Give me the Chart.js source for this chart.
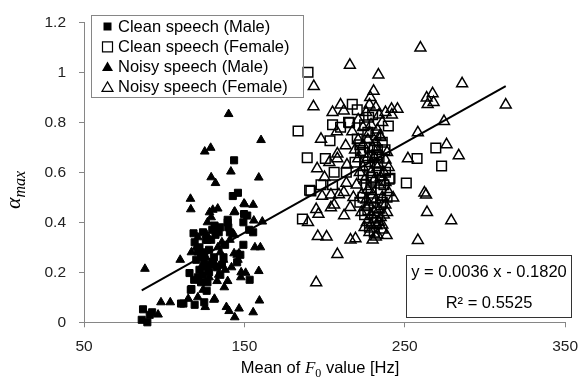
<!DOCTYPE html>
<html>
<head>
<meta charset="utf-8">
<script src="https://cdn.jsdelivr.net/npm/chart.js@4"></script>
<style>
  html, body { margin: 0; padding: 0; background: #fff; }
  #wrap { width: 588px; height: 381px; position: relative; }
</style>
</head>
<body>
<div id="wrap"><canvas id="chart"></canvas></div>
<script>
// === scatter F0 vs alpha_max ===

// Clean speech (Male) - filled squares
const cleanMaleX = [86.8, 86, 89.5, 92.5, 91, 110.5, 112, 119, 116.6, 115.8, 118.7, 121, 123, 124, 119, 118.3, 121, 123, 125, 126.5,
  126.5, 127, 128, 129.3, 130, 131.4, 133, 135, 136, 139.6, 141, 142.8, 146, 143.6, 145.5, 147.5, 149.4, 149.4, 151.8, 153,
  155.5, 153.3, 124.2, 139.6, 149.8, 122, 124, 127, 132, 135, 138, 120, 125, 129, 131, 122, 128, 134, 140, 130, 126, 137, 117, 125];
const cleanMaleY = [0.052, 0.01, 0.0, 0.04, 0.03, 0.075, 0.075, 0.07, 0.13, 0.197, 0.17, 0.18, 0.16, 0.19, 0.32, 0.356, 0.283, 0.26, 0.27, 0.22,
  0.126, 0.16, 0.2, 0.33, 0.37, 0.387, 0.22, 0.19, 0.23, 0.40, 0.36, 0.505, 0.518, 0.648, 0.24, 0.27, 0.31, 0.40, 0.427, 0.37,
  0.36, 0.17, 0.36, 0.41, 0.433, 0.30, 0.28, 0.33, 0.35, 0.38, 0.31, 0.25, 0.24, 0.23, 0.26, 0.21, 0.29, 0.36, 0.38, 0.24, 0.33, 0.26, 0.133, 0.08];

// Clean speech (Female) - hollow squares
const cleanFemaleX = [189.7, 183.5, 205, 215.6, 217.3, 220.4, 225, 239.8, 203.4, 189.2, 200.5, 206, 213.6, 190.7, 191.5, 197.8, 205, 251, 257.7, 269.4,
  273, 240.3, 222, 224, 228, 186.2, 227.5, 230, 232, 228, 230, 233, 226, 229, 231, 235, 222, 225, 232, 235,
  228, 230, 236, 219, 234, 210, 224, 227, 237, 233, 215, 220.4, 222.4, 232.5, 237.7, 225.5, 240.8, 229,
  231, 234, 229, 236, 233, 238, 227, 224, 231, 239];
const cleanFemaleY = [1.0, 0.765, 0.79, 0.798, 0.872, 0.85, 0.79, 0.785, 0.726, 0.658, 0.655, 0.60, 0.60, 0.528, 0.525, 0.55, 0.55, 0.557, 0.655, 0.697,
  0.625, 0.572, 0.71, 0.68, 0.70, 0.413, 0.82, 0.83, 0.75, 0.62, 0.58, 0.64, 0.55, 0.50, 0.46, 0.53, 0.48, 0.43, 0.40, 0.47,
  0.38, 0.66, 0.72, 0.64, 0.60, 0.78, 0.59, 0.45, 0.55, 0.69, 0.80, 0.733, 0.687, 0.67, 0.69, 0.642, 0.576, 0.56,
  0.70, 0.66, 0.53, 0.48, 0.42, 0.60, 0.76, 0.50, 0.36, 0.50];

// Noisy speech (Male) - filled triangles
const noisyMaleX = [140.2, 125.3, 129, 160.4, 129.3, 132, 141.6, 159, 116.4, 116.6, 88, 110, 117, 98, 103.8, 96.2, 115, 121, 125.6, 131,
  138.8, 140.5, 144, 146.7, 155.5, 159.4, 159, 160, 156.6, 161.2, 150.2, 155.5, 143.6, 133.4, 130.3, 129.3, 150.8, 147.8, 138, 139.6,
  137.5, 134, 133.5, 133, 141, 145.5, 143.6, 131.4, 121, 124.3, 126.6, 128.3, 144, 149.8, 155.9, 127, 135, 137, 146, 120,
  123, 128, 136, 142, 148, 126, 132, 143.6, 146.7, 131.4];
const noisyMaleY = [0.833, 0.683, 0.698, 0.729, 0.58, 0.557, 0.603, 0.579, 0.494, 0.452, 0.214, 0.25, 0.28, 0.08, 0.08, 0.031, 0.094, 0.10, 0.061, 0.09,
  0.061, 0.045, 0.02, 0.055, 0.04, 0.087, 0.205, 0.30, 0.30, 0.403, 0.472, 0.47, 0.44, 0.455, 0.45, 0.42, 0.198, 0.18, 0.21, 0.165,
  0.14, 0.19, 0.30, 0.165, 0.33, 0.27, 0.35, 0.37, 0.34, 0.13, 0.35, 0.44, 0.443, 0.475, 0.407, 0.40, 0.28, 0.25, 0.25, 0.30,
  0.22, 0.18, 0.32, 0.22, 0.20, 0.26, 0.23, 0.276, 0.276, 0.094];

// Noisy speech (Female) - hollow triangles
const noisyFemaleX = [259.8, 215.8, 233.6, 193.3, 285.8, 230.6, 228.5, 263.7, 267.4, 264.3, 268, 313, 193.1, 210, 205, 212, 241.8, 245.5, 242, 228,
  232, 226, 234, 207.7, 217.3, 197.8, 274.5, 258.2, 213.2, 234.6, 232, 276.1, 283.7, 252, 195.4, 208, 208, 221, 213.6, 209,
  198.5, 262.3, 242.8, 279, 263.9, 258.2, 208, 194.8, 195.8, 201.3, 216.2, 219.3, 232, 238.7, 212.2, 204, 194.8, 196.2, 189.7, 226.4,
  232.5, 263.3, 224, 228, 230, 231, 233, 229, 231, 234, 227, 230, 232, 228, 234, 229, 231, 235, 226, 236,
  237, 238, 222, 220, 218, 216, 214, 212, 203, 200, 204, 206, 223, 225, 228, 239, 240, 236, 219, 224,
  227, 229, 233, 236, 238, 221,
  230, 233, 236, 229, 234, 237, 231, 238, 226, 235, 232, 239, 227, 224, 221, 235, 240, 225, 223, 238];
const noisyFemaleY = [1.098, 1.029, 0.99, 0.944, 0.955, 0.925, 0.90, 0.898, 0.915, 0.872, 0.88, 0.87, 0.863, 0.87, 0.84, 0.846, 0.853, 0.853, 0.83, 0.87,
  0.86, 0.84, 0.83, 0.763, 0.763, 0.733, 0.804, 0.759, 0.707, 0.746, 0.72, 0.711, 0.667, 0.655, 0.615, 0.674, 0.655, 0.655, 0.557, 0.511,
  0.505, 0.518, 0.498, 0.407, 0.44, 0.328, 0.272, 0.159, 0.344, 0.342, 0.33, 0.335, 0.342, 0.348, 0.427, 0.459, 0.452, 0.433, 0.40, 0.40,
  0.387, 0.51, 0.78, 0.76, 0.70, 0.66, 0.62, 0.60, 0.57, 0.55, 0.53, 0.51, 0.49, 0.47, 0.45, 0.43, 0.41, 0.42, 0.46, 0.50,
  0.60, 0.65, 0.60, 0.55, 0.50, 0.46, 0.63, 0.52, 0.64, 0.58, 0.51, 0.47, 0.44, 0.38, 0.36, 0.44, 0.52, 0.39, 0.69, 0.71,
  0.73, 0.79, 0.77, 0.80, 0.84, 0.81,
  0.33, 0.35, 0.37, 0.39, 0.40, 0.43, 0.44, 0.47, 0.49, 0.58, 0.63, 0.68, 0.66, 0.62, 0.73, 0.74, 0.62, 0.57, 0.51, 0.56];

// Linear trend over all points
const trendSlope = 0.0036;
const trendIntercept = -0.1820;
const trendRange = [86, 313];
const trendLabel = 'y = 0.0036 x - 0.1820';
const r2Label = 'R² = 0.5525';

const xTicks = [50, 150, 250, 350];
const yTicks = [0, 0.2, 0.4, 0.6, 0.8, 1, 1.2];

const seriesNames = ['Clean speech (Male)', 'Clean speech (Female)', 'Noisy speech (Male)', 'Noisy speech (Female)'];

function toPoints(xs, ys) {
  return xs.map((x, i) => ({ x: x, y: ys[i] }));
}

const AXIS_GREY = '#868686';
const FONT = '"Liberation Sans", Arial, sans-serif';

// small marker helper for the legend box
function drawMarker(ctx, kind, x, y) {
  ctx.save();
  ctx.strokeStyle = '#000';
  ctx.fillStyle = '#000';
  ctx.lineWidth = 1.2;
  ctx.beginPath();
  if (kind === 'rectFill') {
    ctx.rect(x - 4, y - 4, 8, 8);
    ctx.fill();
  } else if (kind === 'rect') {
    ctx.rect(x - 5, y - 5, 10, 10);
    ctx.stroke();
  } else {
    ctx.moveTo(x, y - 5.5);
    ctx.lineTo(x + 5.5, y + 4);
    ctx.lineTo(x - 5.5, y + 4);
    ctx.closePath();
    if (kind === 'triFill') ctx.fill(); else ctx.stroke();
  }
  ctx.restore();
}

const overlayPlugin = {
  id: 'overlay',
  afterDraw(chart) {
    const ctx = chart.ctx;
    ctx.save();

    // legend box (upper left, inside plot)
    ctx.strokeStyle = AXIS_GREY;
    ctx.lineWidth = 1;
    ctx.strokeRect(91.5, 15.5, 212, 82);
    const kinds = ['rectFill', 'rect', 'triFill', 'tri'];
    ctx.font = '16.5px ' + FONT;
    ctx.fillStyle = '#000';
    ctx.textBaseline = 'middle';
    ctx.textAlign = 'left';
    seriesNames.forEach((name, i) => {
      const y = 26.5 + i * 20.3;
      drawMarker(ctx, kinds[i], 107.5, y);
      ctx.fillText(name, 118, y + 0.5);
    });

    // regression equation box
    ctx.strokeStyle = '#333';
    ctx.fillStyle = '#fff';
    ctx.fillRect(406, 255, 166, 62);
    ctx.strokeRect(406.5, 255.5, 165, 62);
    ctx.fillStyle = '#000';
    ctx.textAlign = 'center';
    ctx.fillText(trendLabel, 489, 272);
    ctx.fillText(r2Label, 489, 303);

    // x axis title with italic F and subscript 0
    ctx.textAlign = 'left';
    ctx.textBaseline = 'alphabetic';
    const part1 = 'Mean of ';
    const part3 = ' value [Hz]';
    ctx.font = '16.5px ' + FONT;
    const w1 = ctx.measureText(part1).width;
    const w3 = ctx.measureText(part3).width;
    ctx.font = 'italic 17px "Liberation Serif", serif';
    const wF = ctx.measureText('F').width;
    ctx.font = '12px "Liberation Serif", serif';
    const w0 = ctx.measureText('0').width;
    let xx = 320 - (w1 + wF + w0 + w3) / 2;
    const base = 373;
    ctx.font = '16.5px ' + FONT;
    ctx.fillText(part1, xx, base); xx += w1;
    ctx.font = 'italic 17px "Liberation Serif", serif';
    ctx.fillText('F', xx, base); xx += wF;
    ctx.font = '12px "Liberation Serif", serif';
    ctx.fillText('0', xx, base + 4); xx += w0;
    ctx.font = '16.5px ' + FONT;
    ctx.fillText(part3, xx, base);

    // y axis title: alpha_max
    ctx.translate(20, 190);
    ctx.rotate(-Math.PI / 2);
    ctx.font = 'italic 22px "Liberation Serif", serif';
    const wa = ctx.measureText('α').width;
    ctx.font = 'italic 16px "Liberation Serif", serif';
    const wm = ctx.measureText('max').width;
    let tx = -(wa + wm) / 2;
    ctx.font = 'italic 22px "Liberation Serif", serif';
    ctx.fillText('α', tx, 0);
    ctx.font = 'italic 16px "Liberation Serif", serif';
    ctx.fillText('max', tx + wa, 5);

    ctx.restore();
  }
};

const ctx = document.getElementById('chart').getContext('2d');

new Chart(ctx, {
  type: 'scatter',
  data: {
    datasets: [
      {
        type: 'line',
        label: 'trend',
        data: trendRange.map(x => ({ x: x, y: trendSlope * x + trendIntercept })),
        borderColor: '#000',
        borderWidth: 2,
        pointRadius: 0,
        fill: false,
        order: 0
      },
      {
        label: seriesNames[0],
        data: toPoints(cleanMaleX, cleanMaleY),
        pointStyle: 'rect',
        pointRadius: 5,
        backgroundColor: '#000',
        borderColor: '#000',
        borderWidth: 1,
        clip: false,
        order: 4
      },
      {
        label: seriesNames[1],
        data: toPoints(cleanFemaleX, cleanFemaleY),
        pointStyle: 'rect',
        pointRadius: 6.8,
        backgroundColor: 'rgba(0,0,0,0)',
        borderColor: '#000',
        borderWidth: 1.5,
        clip: false,
        order: 3
      },
      {
        label: seriesNames[2],
        data: toPoints(noisyMaleX, noisyMaleY),
        pointStyle: 'triangle',
        pointRadius: 5,
        backgroundColor: '#000',
        borderColor: '#000',
        borderWidth: 1,
        clip: false,
        order: 2
      },
      {
        label: seriesNames[3],
        data: toPoints(noisyFemaleX, noisyFemaleY),
        pointStyle: 'triangle',
        pointRadius: 6.3,
        backgroundColor: 'rgba(0,0,0,0)',
        borderColor: '#000',
        borderWidth: 1.5,
        clip: false,
        order: 1
      }
    ]
  },
  options: {
    responsive: true,
    maintainAspectRatio: false,
    animation: false,
    layout: { padding: { left: 0, right: 16, top: 15.7, bottom: 0 } },
    plugins: {
      legend: { display: false },
      tooltip: { enabled: false }
    },
    scales: {
      x: {
        type: 'linear',
        min: 50,
        max: 350,
        afterBuildTicks: (scale) => { scale.ticks = xTicks.map(v => ({ value: v })); },
        afterFit: (scale) => { scale.height = 58.7; },
        ticks: { color: '#222', font: { family: FONT, size: 15.5 }, padding: 10, maxRotation: 0,
          callback: (v) => String(v) },
        grid: { drawOnChartArea: false, drawTicks: true, tickLength: 5, color: AXIS_GREY },
        border: { color: AXIS_GREY, width: 1 }
      },
      y: {
        min: 0,
        max: 1.2,
        afterBuildTicks: (scale) => { scale.ticks = yTicks.map(v => ({ value: v })); },
        afterFit: (scale) => { scale.width = 84; },
        ticks: { color: '#222', font: { family: FONT, size: 15.5 }, padding: 13,
          callback: (v) => String(v) },
        grid: { drawOnChartArea: false, drawTicks: true, tickLength: 5, color: AXIS_GREY },
        border: { color: AXIS_GREY, width: 1 }
      }
    }
  },
  plugins: [overlayPlugin]
});
</script>
</body>
</html>
